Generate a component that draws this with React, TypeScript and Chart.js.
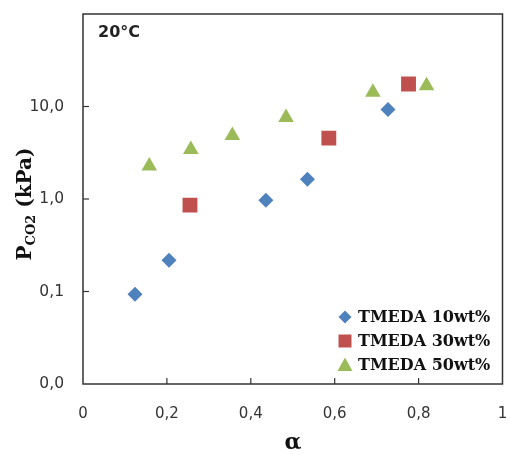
import React, { useEffect, useRef } from "react";
import { Chart, registerables } from "chart.js";

Chart.register(...registerables);

// ---- data ----
const seriesLabels = ["TMEDA 10wt%", "TMEDA 30wt%", "TMEDA 50wt%"];
const seriesColors = ["#4F81BD", "#C0504D", "#9BBB59"];
const seriesStyles = ["rectRot", "rect", "triangle"];
const seriesRadius = [7.5, 10.5, 9];

const tmeda10Alpha = [0.124, 0.205, 0.436, 0.535, 0.727];
const tmeda10P = [0.0935, 0.218, 0.968, 1.63, 9.28];

const tmeda30Alpha = [0.255, 0.586, 0.776];
const tmeda30P = [0.86, 4.55, 17.5];

const tmeda50Alpha = [0.158, 0.257, 0.356, 0.484, 0.691, 0.819];
const tmeda50P = [2.28, 3.42, 4.85, 7.6, 14.3, 16.8];

const xTickValues = [0, 0.2, 0.4, 0.6, 0.8, 1];
const xTickLabels = ["0", "0,2", "0,4", "0,6", "0,8", "1"];
const yTickValues = [0.01, 0.1, 1, 10, 100];
const yTickLabels = ["0,0", "0,1", "1,0", "10,0", ""];

const chartTitle = "20°C";
const xTitle = "α";
const yTitleMain = "P";
const yTitleSub = "CO2";
const yTitleRest = " (kPa)";

const W = 510;
const H = 455;

function toPoints(xs: number[], ys: number[]) {
  return xs.map((x, i) => ({ x, y: ys[i] }));
}

const decorPlugin = {
  id: "decor",
  afterDraw(chart: any) {
    const ctx = chart.ctx as CanvasRenderingContext2D;
    const a = chart.chartArea;
    const xs = chart.scales.x;
    const ys = chart.scales.y;
    ctx.save();
    // frame
    ctx.strokeStyle = "#333333";
    ctx.lineWidth = 1.5;
    ctx.strokeRect(a.left, a.top, a.right - a.left, a.bottom - a.top);
    // inward ticks
    ctx.lineWidth = 1.2;
    xTickValues.forEach((v, i) => {
      if (i === 0 || i === xTickValues.length - 1) return;
      const px = xs.getPixelForValue(v);
      ctx.beginPath();
      ctx.moveTo(px, a.bottom);
      ctx.lineTo(px, a.bottom - 6);
      ctx.stroke();
    });
    yTickValues.forEach((v, i) => {
      if (i === 0 || i === yTickValues.length - 1) return;
      const py = ys.getPixelForValue(v);
      ctx.beginPath();
      ctx.moveTo(a.left, py);
      ctx.lineTo(a.left + 6, py);
      ctx.stroke();
    });

    // chart title inside plot
    ctx.fillStyle = "#222222";
    ctx.font = "bold 16px 'DejaVu Sans'";
    ctx.textBaseline = "middle";
    ctx.textAlign = "left";
    ctx.fillText(chartTitle, a.left + 15, a.top + 19);

    // x title
    ctx.font = "bold 22px 'DejaVu Serif'";
    ctx.textAlign = "center";
    ctx.fillStyle = "#111111";
    ctx.fillText(xTitle, 293, 443);

    // y title with subscript
    const mainFont = "bold 20px 'DejaVu Serif'";
    const subFont = "bold 13px 'DejaVu Serif'";
    ctx.font = mainFont;
    const w1 = ctx.measureText(yTitleMain).width;
    const w3 = ctx.measureText(yTitleRest).width;
    ctx.font = subFont;
    const w2 = ctx.measureText(yTitleSub).width;
    const total = w1 + w2 + w3;
    ctx.translate(24, (a.top + a.bottom) / 2 + 5);
    ctx.rotate(-Math.PI / 2);
    ctx.textAlign = "left";
    ctx.textBaseline = "alphabetic";
    let cx = -total / 2;
    const base = 7;
    ctx.font = mainFont;
    ctx.fillText(yTitleMain, cx, base);
    cx += w1;
    ctx.font = subFont;
    ctx.fillText(yTitleSub, cx, base + 4);
    cx += w2;
    ctx.font = mainFont;
    ctx.fillText(yTitleRest, cx, base);
    ctx.restore();

    // legend
    ctx.save();
    const rows = [317, 341, 365];
    const mx = 345;
    const tx = 358;
    chart.data.datasets.forEach((ds: any, i: number) => {
      const y = rows[i];
      ctx.fillStyle = ds.backgroundColor;
      ctx.beginPath();
      if (i === 0) {
        ctx.moveTo(mx, y - 6.5);
        ctx.lineTo(mx + 6.5, y);
        ctx.lineTo(mx, y + 6.5);
        ctx.lineTo(mx - 6.5, y);
      } else if (i === 1) {
        ctx.rect(mx - 6.5, y - 6.5, 13, 13);
      } else {
        ctx.moveTo(mx, y - 7.5);
        ctx.lineTo(mx + 7.5, y + 6);
        ctx.lineTo(mx - 7.5, y + 6);
      }
      ctx.closePath();
      ctx.fill();
      ctx.fillStyle = "#111111";
      ctx.font = "bold 16px 'DejaVu Serif'";
      ctx.textAlign = "left";
      ctx.textBaseline = "middle";
      ctx.fillText(ds.label, tx, y + 1);
    });
    ctx.restore();
  },
};

export default function App() {
  const ref = useRef<HTMLCanvasElement | null>(null);
  useEffect(() => {
    document.body.style.margin = "0";
    const canvas = ref.current!;
    const allX = [tmeda10Alpha, tmeda30Alpha, tmeda50Alpha];
    const allY = [tmeda10P, tmeda30P, tmeda50P];
    const chart = new Chart(canvas, {
      type: "scatter",
      data: {
        datasets: seriesLabels.map((label, i) => ({
          label,
          data: toPoints(allX[i], allY[i]),
          backgroundColor: seriesColors[i],
          borderColor: seriesColors[i],
          pointStyle: seriesStyles[i] as any,
          pointRadius: seriesRadius[i],
          pointHoverRadius: seriesRadius[i],
          pointBorderWidth: 0,
        })),
      },
      options: {
        animation: false,
        responsive: false,
        maintainAspectRatio: false,
        layout: { autoPadding: false, padding: { top: 14, right: 7.5, left: 0, bottom: 0 } },
        plugins: {
          legend: { display: false },
          tooltip: { enabled: false },
          title: { display: false },
        },
        scales: {
          x: {
            type: "linear",
            min: 0,
            max: 1,
            afterBuildTicks: (s: any) => {
              s.ticks = xTickValues.map((v) => ({ value: v }));
            },
            afterFit: (s: any) => {
              s.height = 71;
              s.paddingLeft = 0;
              s.paddingRight = 0;
              s.paddingTop = 0;
              s.paddingBottom = 0;
            },
            grid: { display: false, drawTicks: false },
            border: { display: false },
            ticks: {
              padding: 21,
              maxRotation: 0,
              autoSkip: false,
              color: "#333333",
              font: { family: "'DejaVu Sans'", size: 15 },
              callback: (_v: any, i: number) => xTickLabels[i],
            },
          },
          y: {
            type: "logarithmic",
            min: 0.01,
            max: 100,
            afterBuildTicks: (s: any) => {
              s.ticks = yTickValues.map((v) => ({ value: v }));
            },
            afterFit: (s: any) => {
              s.width = 83;
              s.paddingLeft = 0;
              s.paddingRight = 0;
              s.paddingTop = 0;
              s.paddingBottom = 0;
            },
            grid: { display: false, drawTicks: false },
            border: { display: false },
            ticks: {
              padding: 19,
              autoSkip: false,
              color: "#333333",
              font: { family: "'DejaVu Sans'", size: 15.5 },
              callback: (_v: any, i: number) => yTickLabels[i],
            },
          },
        },
      },
      plugins: [decorPlugin],
    });
    return () => chart.destroy();
  }, []);
  return (
    <div style={{ position: "absolute", left: 0, top: 0, width: W, height: H, background: "#fff" }}>
      <canvas ref={ref} width={W} height={H} style={{ width: W, height: H }} />
    </div>
  );
}
